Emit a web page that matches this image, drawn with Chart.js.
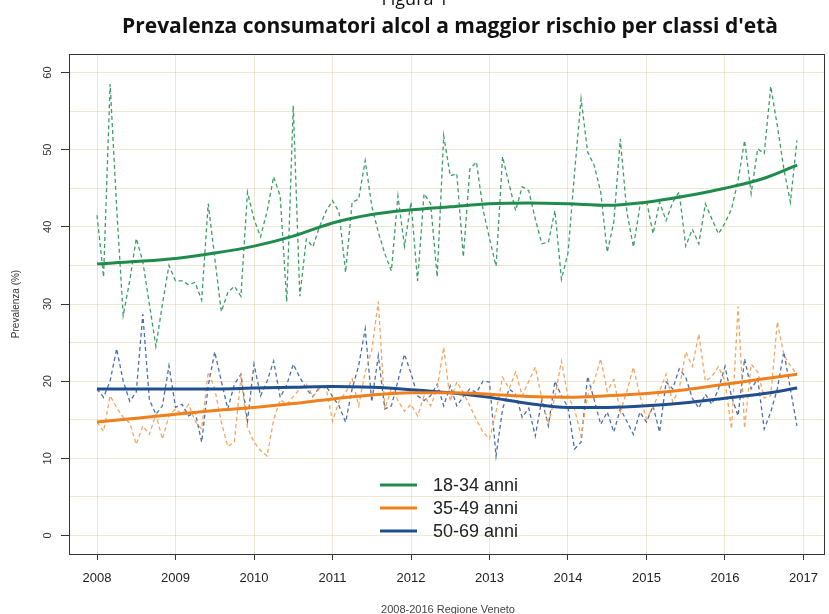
<!DOCTYPE html>
<html>
<head>
<meta charset="utf-8">
<script src="https://cdn.jsdelivr.net/npm/chart.js@4.4.1/dist/chart.umd.min.js"></script>
<style>
  html, body { margin: 0; padding: 0; background: #fff; }
  canvas { display: block; }
</style>
</head>
<body>
<canvas id="alcolChart" width="829" height="614"></canvas>
<script>
// tick labels
const years = [2008, 2009, 2010, 2011, 2012, 2013, 2014, 2015, 2016, 2017];
const yTicks = [0, 5, 10, 15, 20, 25, 30, 35, 40, 45, 50, 55, 60];
const seriesNames = ["18-34 anni", "35-49 anni", "50-69 anni"];

// monthly prevalence, Jan 2008 .. Dec 2016
const prev1834 = [
  41.5, 33.5, 58.5, 42.5, 28.5, 33, 38.5, 35.5, 30, 24.5, 30, 35,
  33, 33, 32.5, 32.8, 30.5, 43, 36, 29, 31.5, 32.3, 31, 44.5,
  41, 38.7, 42, 46.5, 44, 30.3, 55.7, 31, 38.4, 37.4, 40, 42,
  43.4, 41.9, 34.1, 43.2, 43.6, 48.6, 42.7, 39.3, 36.5, 34.3, 44, 37.5,
  43.2, 33, 44.3, 43, 33.5, 51.8, 46.6, 46.9, 36.1, 47.5, 48.4, 42.3,
  38.5, 34.9, 49.1, 45.5, 42.1, 45.2, 44.7, 41, 37.8, 38, 42.1, 33.2,
  36.6, 47, 56.6, 49.7, 48, 44.5, 36.7, 40.6, 51.4, 41.9, 37.4, 42.7,
  43.4, 39.1, 43.2, 40.8, 43.2, 44.5, 37.5, 39.7, 37.8, 43, 41, 39.1,
  40.5, 42.3, 46, 51.2, 44.3, 50.1, 49.5, 58.2, 53.1, 47.5, 43.2, 51.2
];
const prev3549 = [
  14.7, 13.5, 18.1, 16.6, 15.3, 14.6, 11.8, 14.2, 13.1, 15.7, 12.5, 15.5,
  16.4, 15.7, 17, 14.8, 13.8, 21.2, 19, 14.7, 11.5, 12.2, 20.5, 14,
  12.1, 11, 10.3, 15, 17.6, 17, 18, 19, 19.6, 18, 19, 19.2,
  14.8, 17.4, 18.5, 20.3, 16.8, 21.2, 24, 30.3, 16.4, 19, 17.5, 16.1,
  17, 15.5, 18.1, 16.8, 19, 24.4, 17.4, 19.9, 18.5, 16.8, 15, 13.4,
  12.5, 16, 20.5, 19, 21.2, 18.1, 20, 21.8, 17.8, 14.4, 18, 22.6,
  18, 16.4, 12.9, 18.1, 20, 22.9, 18.7, 20.2, 16, 18.7, 21.8, 18.1,
  15.1, 16.6, 18.7, 20.9, 17.3, 19, 23.8, 21.9, 26.1, 20, 20.6, 21.9,
  20, 13.8, 29.7, 13.9, 22.2, 21.2, 17.8, 18.1, 27.7, 23.4, 22, 20.9
];
const prev5069 = [
  19, 17.9, 20, 24.2, 20, 17.4, 18.6, 28.7, 17.6, 15.7, 16.8, 22,
  16.6, 17, 15.5, 16, 12.1, 19.4, 23.8, 20, 16.4, 19.6, 20.9, 14.8,
  22.2, 18.1, 20, 22.6, 17.9, 19.5, 22.2, 20.5, 19, 18, 19.2, 19.4,
  18, 16.8, 14.7, 19, 22, 26.8, 17.3, 23.3, 16.4, 16.8, 20, 23.5,
  21, 18.1, 17.5, 18.1, 19.6, 16.8, 19.4, 16.8, 18, 19, 18.5, 20,
  19.9, 10.3, 16.4, 19, 18.3, 15.3, 16.5, 12.9, 17.6, 14.2, 20, 18.1,
  16.6, 11.2, 12.1, 20.6, 17.6, 14.4, 16, 13.4, 16.4, 14.8, 13.1, 16,
  14.7, 16.8, 13.4, 19.9, 19, 21.6, 20.5, 17.8, 16.5, 18.3, 17, 19,
  21.9, 18, 15.5, 22.9, 19, 20.3, 13.8, 16, 19, 23.8, 19, 14.2
];

// smoothed trend, read at half-year positions
const trendX = [2008, 2008.5, 2009, 2009.5, 2010, 2010.5, 2011, 2011.5, 2012, 2012.5,
  2013, 2013.5, 2014, 2014.5, 2015, 2015.5, 2016, 2016.5, 2016.92];
const trend1834 = [35.2, 35.5, 35.9, 36.6, 37.5, 38.8, 40.5, 41.6, 42.2, 42.6,
  43, 43.1, 43, 42.8, 43.2, 44, 45, 46.3, 48];
const trend3549 = [14.7, 15.2, 15.7, 16.2, 16.6, 17.1, 17.7, 18.2, 18.5, 18.5,
  18.3, 18, 17.9, 18.1, 18.4, 18.9, 19.6, 20.3, 20.9];
const trend5069 = [19, 19, 19, 19, 19.1, 19.2, 19.3, 19.2, 18.9, 18.5,
  17.9, 17.1, 16.6, 16.6, 16.8, 17.2, 17.8, 18.4, 19.1];

const green = "#1f8c4e", greenDash = "#3b9e68";
const orange = "#f07f1e", orangeDash = "#f4a560";
const blue = "#1f4f8f", blueDash = "#4c6fa8";

const monthly = (vals) => vals.map((v, i) => ({ x: 2008 + i / 12, y: v }));
const trend = (vals) => vals.map((v, i) => ({ x: trendX[i], y: v }));

function dashed(vals, color) {
  return {
    data: monthly(vals),
    borderColor: color,
    borderWidth: 1.3,
    borderDash: [4, 3],
    pointRadius: 0,
    tension: 0,
    order: 1,
  };
}
function smooth(label, vals, color) {
  return {
    label: label,
    data: trend(vals),
    borderColor: color,
    borderWidth: 3,
    pointRadius: 0,
    cubicInterpolationMode: "monotone",
    order: 0,
  };
}

// title, caption, legend and plot box (R style)
const overlay = {
  id: "overlay",
  afterDraw(chart) {
    const ctx = chart.ctx;
    const a = chart.chartArea;
    ctx.save();
    ctx.strokeStyle = "#333";
    ctx.lineWidth = 1;
    ctx.strokeRect(a.left + 0.5, a.top + 0.5, a.right - a.left - 1, a.bottom - a.top);

    ctx.fillStyle = "#111";
    ctx.textAlign = "center";
    ctx.textBaseline = "middle";
    ctx.font = "18px 'Open Sans'";
    ctx.fillText("Figura 1", 415, 0);
    ctx.font = "bold 21px 'Open Sans'";
    ctx.textBaseline = "alphabetic";
    ctx.fillText("Prevalenza consumatori alcol a maggior rischio per classi d'età", 450, 33);

    ctx.fillStyle = "#444";
    ctx.font = "11px 'Liberation Sans'";
    ctx.textBaseline = "middle";
    ctx.fillText("2008-2016 Regione Veneto", 448, 610);

    const cols = [green, orange, blue];
    ctx.textAlign = "left";
    ctx.font = "18px 'Liberation Sans'";
    seriesNames.forEach((name, i) => {
      const y = 485 + i * 23;
      ctx.strokeStyle = cols[i];
      ctx.lineWidth = 3;
      ctx.beginPath();
      ctx.moveTo(380, y);
      ctx.lineTo(417, y);
      ctx.stroke();
      ctx.fillStyle = "#222";
      ctx.fillText(name, 433, y + 1);
    });
    ctx.restore();
  }
};

const gridColor = "rgba(214, 205, 160, 0.45)";

new Chart(document.getElementById("alcolChart"), {
  type: "line",
  data: {
    datasets: [
      smooth(seriesNames[0], trend1834, green),
      smooth(seriesNames[1], trend3549, orange),
      smooth(seriesNames[2], trend5069, blue),
      dashed(prev1834, greenDash),
      dashed(prev3549, orangeDash),
      dashed(prev5069, blueDash),
    ],
  },
  options: {
    responsive: false,
    animation: false,
    layout: { padding: { top: 54, right: 2, left: 0, bottom: 0 } },
    plugins: {
      legend: { display: false },
      tooltip: { enabled: false },
    },
    scales: {
      x: {
        type: "linear",
        min: 2007.643,
        max: 2017.274,
        afterBuildTicks: (s) => { s.ticks = years.map((v) => ({ value: v })); },
        afterFit: (s) => { s.height = 60; },
        grid: { color: gridColor, tickColor: "#333", tickLength: 6 },
        border: { display: false },
        ticks: {
          color: "#222",
          padding: 11,
          maxRotation: 0,
          font: { family: "'Liberation Sans'", size: 13 },
          callback: (v) => String(v),
        },
      },
      y: {
        min: -2.4,
        max: 62.4,
        afterBuildTicks: (s) => { s.ticks = yTicks.map((v) => ({ value: v })); },
        afterFit: (s) => { s.width = 69; },
        grid: {
          color: gridColor,
          tickLength: 8,
          tickColor: (c) => (c.tick && c.tick.value % 10 === 0 ? "#333" : "rgba(0,0,0,0)"),
        },
        border: { display: false },
        ticks: {
          color: "#333",
          padding: 7,
          minRotation: 90,
          maxRotation: 90,
          crossAlign: "center",
          font: { family: "'Liberation Sans'", size: 11 },
          callback: (v) => (v % 10 === 0 ? String(v) : ""),
        },
        title: {
          display: true,
          text: "Prevalenza (%)",
          color: "#333",
          padding: { top: 10, bottom: 0 },
          font: { family: "'Liberation Sans'", size: 10 },
        },
      },
    },
  },
  plugins: [overlay],
});
</script>
</body>
</html>
